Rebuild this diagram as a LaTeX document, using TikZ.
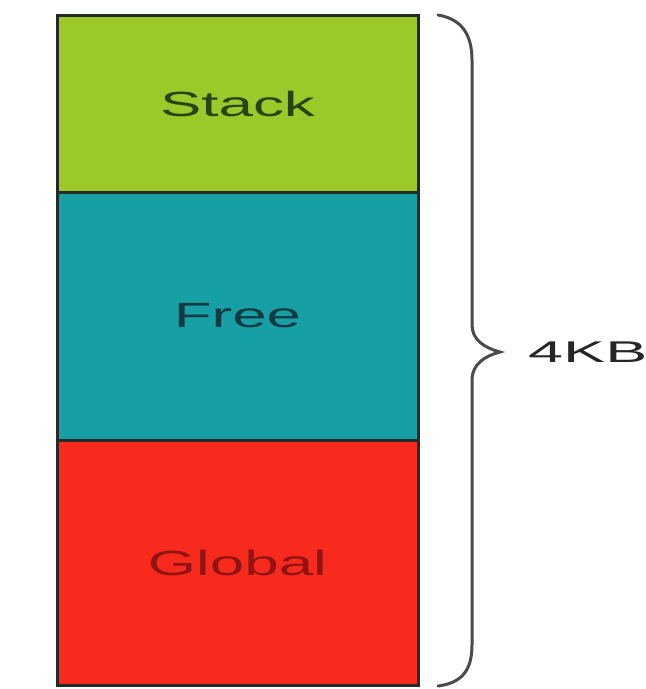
\documentclass[tikz,border=0pt]{standalone}
\usepackage{fontspec}
\setmainfont{Liberation Sans}
\definecolor{stackc}{RGB}{156,201,42}
\definecolor{freec}{RGB}{22,160,166}
\definecolor{globalc}{RGB}{248,42,30}
\definecolor{stackt}{RGB}{40,68,22}
\definecolor{freet}{RGB}{18,58,68}
\definecolor{globalt}{RGB}{145,20,20}
\definecolor{edgec}{RGB}{38,42,38}
\definecolor{bracec}{RGB}{75,75,75}
\tikzset{
  seg/.style={draw=edgec, line width=3pt, minimum width=361pt, inner sep=0pt, outer sep=0pt, font=\fontsize{35}{40}\selectfont},
}
\begin{document}
\begin{tikzpicture}[x=1pt,y=-1pt]
\useasboundingbox (0,0) rectangle (646,689);
\fill[white] (0,0) rectangle (646,689);
\node[seg, fill=stackc, minimum height=177pt, text=stackt] (stack) at (237.5,103.5) {\scalebox{1.77}[1]{Stack}};
\node[seg, fill=freec, minimum height=248pt, text=freet] (free) at (237.5,316) {\scalebox{1.77}[1]{Free}};
\node[seg, fill=globalc, minimum height=245pt, text=globalt] (global) at (237.5,562.5) {\scalebox{1.77}[1]{Global}};
\draw[bracec, line width=3pt, line cap=round]
  (438,15) .. controls (462,19) and (472,35) .. (472,60) -- (472,325)
  .. controls (472,340) and (485,348) .. (500,352)
  .. controls (485,356) and (472,364) .. (472,380) -- (472,645)
  .. controls (472,670) and (462,683) .. (438,686);
\node[anchor=west, inner sep=0pt, text=black!85, font=\fontsize{30}{32}\selectfont] (kb) at (528,352) {\scalebox{2.1}[1]{4KB}};
\end{tikzpicture}
\end{document}
